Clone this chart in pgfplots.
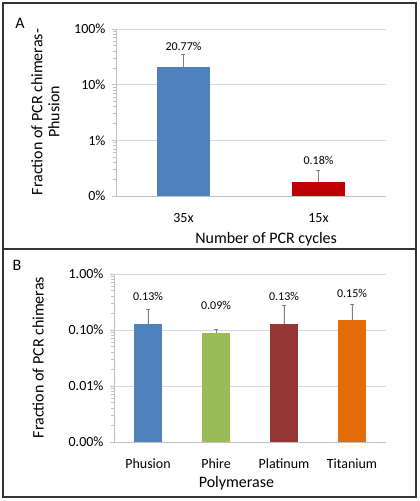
\documentclass[border=0pt]{standalone}
\usepackage{pgfplots}
\pgfplotsset{compat=1.18}
\usepackage{fontspec}
\setmainfont{Carlito}
\definecolor{cblue}{HTML}{4F81BD}
\definecolor{cred}{HTML}{C00000}
\definecolor{cgreen}{HTML}{9BBB59}
\definecolor{cdred}{HTML}{953735}
\definecolor{corange}{HTML}{E46C0A}
\definecolor{axgray}{HTML}{BFBFBF}
\definecolor{gridgray}{HTML}{D9D9D9}
\definecolor{errgray}{HTML}{7F7F7F}
\pgfplotsset{
  error bars/errsty/.style={error bar style={draw=errgray, line width=0.7pt},
    error mark options={draw=errgray, mark size=2pt, line width=0.7pt, rotate=90}},
}
\begin{document}
\begin{tikzpicture}[x=1pt,y=1pt]
\useasboundingbox (0,0) rectangle (420,501);
\draw[line width=1.3pt, black!80] (3,4) rectangle (416,498);
\draw[line width=1.3pt, black!80] (3,252) -- (416,252);
\node[font=\fontsize{16}{18}\selectfont] at (20,478) {A};
\node[font=\fontsize{16}{18}\selectfont] at (17,236) {B};

% Panel A
\begin{axis}[
  at={(116pt,305pt)}, anchor=south west,
  scale only axis, width=270pt, height=167pt,
  ymode=log, log origin y=infty,
  ybar, bar shift=0pt, bar width=53pt,
  xmin=-0.5, xmax=1.5, ymin=0.1, ymax=100,
  axis x line*=bottom, axis y line*=left,
  axis line style={draw=axgray, line width=0.8pt},
  ymajorgrids, grid style={draw=gridgray, line width=0.8pt},
  tick align=outside, major tick length=4pt,
  ytick style={draw=axgray, line width=0.8pt},
  xtick style={draw=none},
  xtick={0,1}, xticklabels={35x,15x},
  extra x ticks={-0.5,0.5,1.5},
  extra x tick labels={},
  extra x tick style={major tick length=5pt, tick style={draw=axgray, line width=0.8pt}},
  ytick={0.1,1,10,100}, yticklabels={0\%,1\%,10\%,100\%},
  ticklabel style={font=\fontsize{14}{16}\selectfont},
  yticklabel style={xshift=-3pt},
  xticklabel style={yshift=-10pt},
  label style={font=\fontsize{16}{17}\selectfont},
  point meta=explicit symbolic,
  nodes near coords={\pgfplotspointmeta},
  every node near coord/.append style={font=\fontsize{12}{14}\selectfont, text=black, anchor=center, yshift=21pt},
  xlabel={Number of PCR cycles},
  xlabel style={at={(axis description cs:0.556,-0.257)}, anchor=center},
  ylabel={Fraction of PCR chimeras-\\Phusion},
  ylabel style={at={(axis description cs:-0.262,0.503)}, anchor=center, align=center},
]
\addplot[fill=cblue, draw=none, error bars/.cd, y dir=plus, y explicit, errsty]
  table[x=x, y=y, y error plus=e, meta=l] {
x y e l
0 20.77 14.2 20.77\%
};
\addplot[fill=cred, draw=none, error bars/.cd, y dir=plus, y explicit, errsty]
  table[x=x, y=y, y error plus=e, meta=l] {
x y e l
1 0.18 0.11 0.18\%
};
\end{axis}

% Panel B
\begin{axis}[
  at={(114pt,59pt)}, anchor=south west,
  scale only axis, width=272pt, height=168pt,
  ymode=log, log origin y=infty,
  ybar, bar shift=0pt, bar width=28pt,
  xmin=-0.5, xmax=3.5, ymin=0.001, ymax=1,
  axis x line*=bottom, axis y line*=left,
  axis line style={draw=axgray, line width=0.8pt},
  ymajorgrids, grid style={draw=gridgray, line width=0.8pt},
  tick align=outside, major tick length=4pt,
  ytick style={draw=axgray, line width=0.8pt},
  xtick style={draw=none},
  xtick={0,1,2,3}, xticklabels={Phusion,Phire,Platinum,Titanium},
  extra x ticks={-0.5,0.5,1.5,2.5,3.5},
  extra x tick labels={},
  extra x tick style={major tick length=5pt, tick style={draw=axgray, line width=0.8pt}},
  ytick={0.001,0.01,0.1,1}, yticklabels={0.00\%,0.01\%,0.10\%,1.00\%},
  ticklabel style={font=\fontsize{14}{16}\selectfont},
  yticklabel style={xshift=-3pt},
  xticklabel style={yshift=-9pt},
  label style={font=\fontsize{16}{17}\selectfont},
  point meta=explicit symbolic,
  nodes near coords={\pgfplotspointmeta},
  every node near coord/.append style={font=\fontsize{12}{14}\selectfont, text=black, anchor=center, yshift=27pt},
  xlabel={Polymerase},
  xlabel style={at={(axis description cs:0.45,-0.244)}, anchor=center},
  ylabel={Fraction of PCR chimeras},
  ylabel style={at={(axis description cs:-0.279,0.503)}, anchor=center},
]
\addplot[fill=cblue, draw=none, error bars/.cd, y dir=plus, y explicit, errsty]
  table[x=x, y=y, y error plus=e, meta=l] {
x y e l
0 0.13 0.10 0.13\%
};
\addplot[fill=cgreen, draw=none, error bars/.cd, y dir=plus, y explicit, errsty]
  table[x=x, y=y, y error plus=e, meta=l] {
x y e l
1 0.09 0.012 0.09\%
};
\addplot[fill=cdred, draw=none, error bars/.cd, y dir=plus, y explicit, errsty]
  table[x=x, y=y, y error plus=e, meta=l] {
x y e l
2 0.13 0.14 0.13\%
};
\addplot[fill=corange, draw=none, error bars/.cd, y dir=plus, y explicit, errsty]
  table[x=x, y=y, y error plus=e, meta=l] {
x y e l
3 0.15 0.14 0.15\%
};
\end{axis}
\end{tikzpicture}
\end{document}
